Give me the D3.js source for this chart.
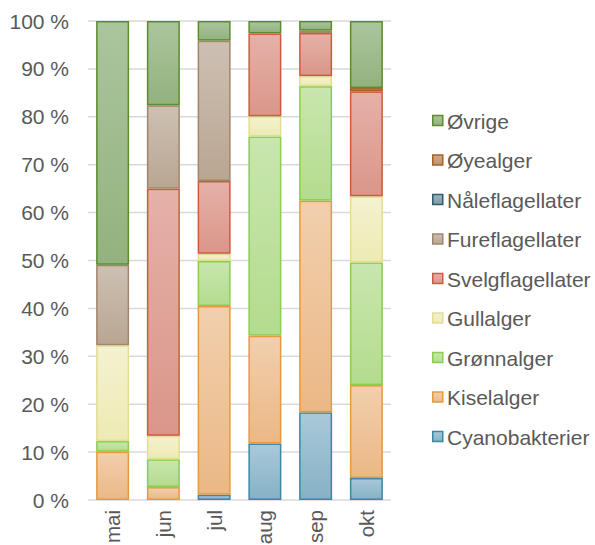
<!DOCTYPE html>
<html>
<head>
<meta charset="utf-8">
<script src="https://cdn.jsdelivr.net/npm/d3@7"></script>
<style>
  body { margin: 0; background: #fff; }
  text { font-family: "Liberation Sans", Arial, sans-serif; fill: #595959; }
</style>
</head>
<body>
<svg id="chart" width="595" height="545"></svg>
<script>
var months = ["mai", "jun", "jul", "aug", "sep", "okt"];

// bottom to top in each bar
var seriesNames = ["Cyanobakterier", "Kiselalger", "Grønnalger", "Gullalger", "Svelgflagellater",
  "Fureflagellater", "Nåleflagellater", "Øyealger", "Øvrige"];

var cyanobakterier   = [0, 0, 1.1, 11.8, 18.3, 4.6];
var kiselalger       = [10.1, 2.7, 39.4, 22.5, 44.2, 19.4];
var gronnalger       = [2.2, 5.8, 9.4, 41.6, 23.9, 25.6];
var gullalger        = [20.0, 4.9, 1.5, 4.2, 2.1, 13.8];
var svelgflagellater = [0, 51.6, 15.2, 17.3, 9.0, 21.9];
var fureflagellater  = [16.8, 17.4, 29.3, 0, 0.5, 0];
var naleflagellater  = [0, 0, 0, 0, 0, 0];
var oyealger         = [0, 0, 0, 0, 0, 0.7];
var ovrige           = [50.9, 17.6, 4.1, 2.6, 2.0, 14.0];

var yTicks = [0, 10, 20, 30, 40, 50, 60, 70, 80, 90, 100];

// fill top, fill bottom, stroke
var palette = {
  "Cyanobakterier":   ["#a9c9d9", "#86b1c5", "#3b87a6"],
  "Kiselalger":       ["#f1cfae", "#ebb886", "#e69a3d"],
  "Grønnalger":       ["#c8e6af", "#b3dc8e", "#8acd4f"],
  "Gullalger":        ["#f4f2d0", "#eeeab4", "#e3dd94"],
  "Svelgflagellater": ["#e5b1a8", "#da968a", "#cf5a3f"],
  "Fureflagellater":  ["#cdc0b3", "#b9a692", "#a4846a"],
  "Nåleflagellater":  ["#9db3bf", "#7f9aa8", "#2e5d70"],
  "Øyealger":         ["#d2aa86", "#c09068", "#a3622a"],
  "Øvrige":           ["#abc59e", "#93b27f", "#5b8c2d"]
};

var columns = [cyanobakterier, kiselalger, gronnalger, gullalger, svelgflagellater,
  fureflagellater, naleflagellater, oyealger, ovrige];

var table = months.map(function(m, i) {
  var row = { month: m };
  seriesNames.forEach(function(s, j) { row[s] = columns[j][i]; });
  return row;
});

var svg = d3.select("#chart");
var plotLeft = 88, plotRight = 391, plotTop = 21, plotBottom = 500;

var x = d3.scaleBand().domain(months).range([plotLeft, plotRight]).paddingInner(0.35).paddingOuter(0.16);
var y = d3.scaleLinear().domain([0, 100]).range([plotBottom, plotTop]);

var defs = svg.append("defs");
seriesNames.forEach(function(s, j) {
  var g = defs.append("linearGradient")
    .attr("id", "grad" + j)
    .attr("x1", 0).attr("y1", 0).attr("x2", 0).attr("y2", 1);
  g.append("stop").attr("offset", "0%").attr("stop-color", palette[s][0]);
  g.append("stop").attr("offset", "100%").attr("stop-color", palette[s][1]);
});

// gridlines
svg.append("g").selectAll("line")
  .data(yTicks)
  .enter().append("line")
  .attr("x1", plotLeft).attr("x2", plotRight)
  .attr("y1", function(d) { return y(d); })
  .attr("y2", function(d) { return y(d); })
  .attr("stroke", "#d9d9d9")
  .attr("stroke-width", 1.5);

// y labels
svg.append("g").selectAll("text")
  .data(yTicks)
  .enter().append("text")
  .attr("x", 69)
  .attr("y", function(d) { return y(d); })
  .attr("dy", "0.36em")
  .attr("text-anchor", "end")
  .style("font-size", "21px")
  .text(function(d) { return d + " %"; });

var stack = d3.stack().keys(seriesNames);
var layers = stack(table);

svg.append("g").selectAll("g")
  .data(layers)
  .enter().append("g")
  .each(function(layer, j) {
    d3.select(this).selectAll("rect")
      .data(layer.filter(function(d) { return d[1] - d[0] > 0; }))
      .enter().append("rect")
      .attr("x", function(d) { return x(d.data.month) + 0.75; })
      .attr("width", x.bandwidth() - 1.5)
      .attr("y", function(d) { return y(d[1]) + 0.75; })
      .attr("height", function(d) { return Math.max(0.5, y(d[0]) - y(d[1]) - 1.5); })
      .attr("fill", "url(#grad" + j + ")")
      .attr("stroke", palette[layer.key][2])
      .attr("stroke-width", 1.5);
  });

// x labels
svg.append("g").selectAll("text")
  .data(months)
  .enter().append("text")
  .attr("transform", function(d) {
    return "translate(" + (x(d) + x.bandwidth() / 2) + ",510) rotate(-90)";
  })
  .attr("dy", "0.36em")
  .attr("text-anchor", "end")
  .style("font-size", "20.5px")
  .text(function(d) { return d; });

// legend, top to bottom in reverse order
var legendItems = seriesNames.slice().reverse();
var legend = svg.append("g").selectAll("g")
  .data(legendItems)
  .enter().append("g")
  .attr("transform", function(d, i) { return "translate(432," + (121 + i * 39.5) + ")"; });

legend.append("rect")
  .attr("x", 0.75).attr("y", -5.5)
  .attr("width", 10).attr("height", 10)
  .attr("fill", function(d) { return "url(#grad" + seriesNames.indexOf(d) + ")"; })
  .attr("stroke", function(d) { return palette[d][2]; })
  .attr("stroke-width", 1.5);

legend.append("text")
  .attr("x", 15)
  .attr("dy", "0.36em")
  .style("font-size", "21px")
  .text(function(d) { return d; });
</script>
</body>
</html>
